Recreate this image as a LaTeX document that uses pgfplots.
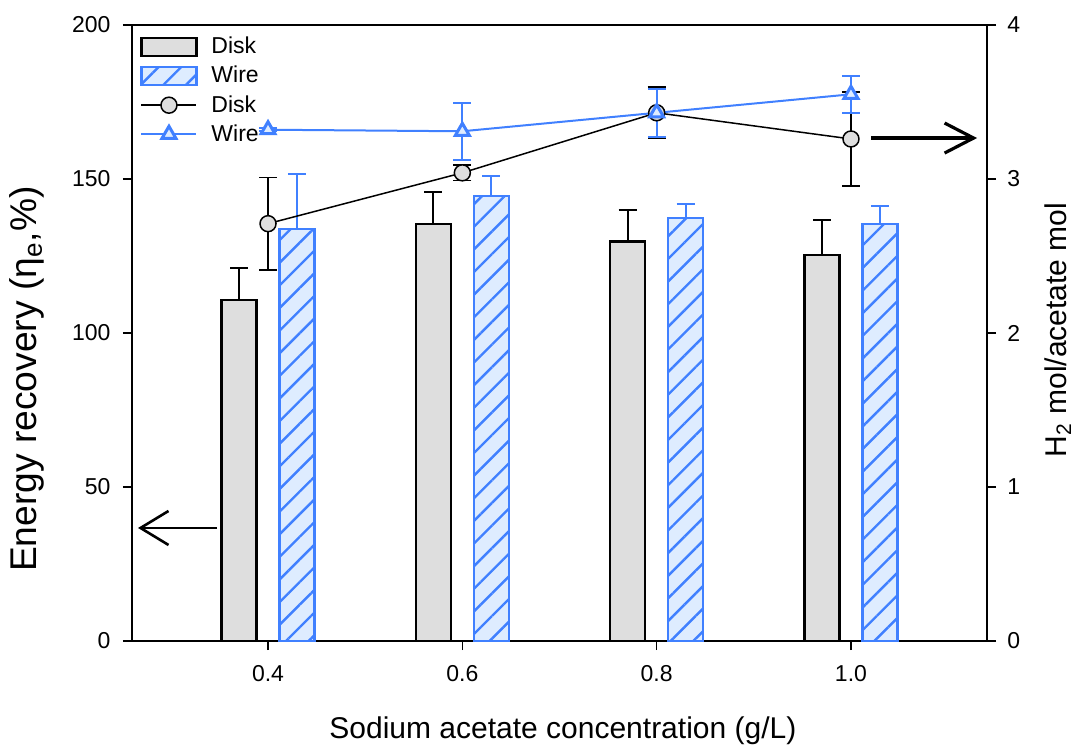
\documentclass[border=0pt]{standalone}
\usepackage{pgfplots}
\pgfplotsset{compat=1.18}
\usepackage{fontspec}
\setmainfont{Liberation Sans}
\usetikzlibrary{patterns.meta,arrows.meta}
\definecolor{wblue}{RGB}{64,128,255}
\definecolor{wfill}{RGB}{222,236,255}
\definecolor{dfill}{RGB}{222,222,222}
\newcommand{\tickfont}{\fontsize{11.5}{13.8}\selectfont}
\begin{document}
\begin{tikzpicture}
\begin{axis}[
  name=main,
  scale only axis, width=427.5pt, height=308pt,
  xmin=0.26, xmax=1.14, ymin=0, ymax=200,
  xtick={0.4,0.6,0.8,1.0}, xticklabels={0.4,0.6,0.8,1.0},
  ytick={0,50,100,150,200},
  xtick pos=bottom, ytick pos=left, tick align=outside,
  major tick length=4.5pt,
  every tick/.style={black, line width=0.75pt},
  axis line style={line width=1pt},
  tick label style={font=\tickfont},
  /pgf/number format/assume math mode=true,
  xticklabel style={yshift=-4pt},
  yticklabel style={xshift=-2.7pt},
  xlabel={Sodium acetate concentration (g/L)},
  ylabel={Energy recovery (η\textsubscript{e},\%)},
  xlabel style={at={(axis description cs:0.504,0)}, anchor=base, yshift=-48.5pt, font=\fontsize{15}{18}\selectfont},
  ylabel style={at={(axis description cs:-0.1228,0.425)}, anchor=center, font=\fontsize{18.6}{22}\selectfont},
  clip=false,
]
\addplot[ybar, bar width=17.5pt, bar shift=0pt, fill=dfill, draw=black, line width=1.1pt,
  error bars/.cd, y dir=plus, y explicit,
  error bar style={black, line width=0.9pt},
  error mark options={rotate=90, mark size=4.5pt, black, line width=0.9pt}]
  coordinates {(0.3702,110.8) +- (0,10.2) (0.5702,135.3) +- (0,10.6) (0.7702,129.7) +- (0,10.2) (0.9702,125.3) +- (0,11.4)};
\addplot[ybar, bar width=17.5pt, bar shift=0pt, fill=wfill, draw=wblue, line width=1.1pt,
  postaction={pattern={Lines[angle=45,distance=8pt,line width=1.2pt]}, pattern color=wblue},
  error bars/.cd, y dir=plus, y explicit,
  error bar style={wblue, line width=0.9pt},
  error mark options={rotate=90, mark size=4.5pt, wblue, line width=0.9pt}]
  coordinates {(0.4298,133.8) +- (0,17.8) (0.6298,144.5) +- (0,6.5) (0.8298,137.4) +- (0,4.6) (1.0298,135.3) +- (0,5.9)};
\draw[line width=1.3pt, -{Straight Barb[length=14pt,width=17pt]}] (axis cs:0.3476,36.7) -- (axis cs:0.2662,36.7);
\draw[line width=1.6pt, -{Straight Barb[length=14.5pt,width=15pt]}] (axis cs:1.0208,163.3) -- (axis cs:1.1298,163.3);
\end{axis}
\begin{axis}[
  scale only axis, width=427.5pt, height=308pt,
  xmin=0.26, xmax=1.14, ymin=0, ymax=4,
  axis x line=none, axis y line*=right,
  ytick={0,1,2,3,4}, ytick pos=right, tick align=outside,
  major tick length=4.5pt,
  every tick/.style={black, line width=0.75pt},
  axis line style={line width=1pt},
  tick label style={font=\tickfont},
  /pgf/number format/assume math mode=true,
  yticklabel style={xshift=2.2pt},
  ylabel={H\textsubscript{2} mol/acetate mol},
  ylabel style={at={(axis description cs:1.083,0.505)}, anchor=center, font=\fontsize{15}{18}\selectfont},
  legend style={at={(0.0023,0.9938)}, anchor=north west, draw=none, fill=none, font=\tickfont, row sep=0.7pt},
  legend cell align=left,
  legend image code/.code={\draw[mark repeat=2,mark phase=2,#1] plot coordinates {(0pt,0pt) (13.75pt,0pt) (27.5pt,0pt)};\path (32.5pt,0pt);},
  clip=false,
]
\addlegendimage{legend image code/.code={\draw[fill=dfill,draw=black,line width=1.1pt] (0pt,-4.4pt) rectangle (27.5pt,4.4pt);\path (32.5pt,0pt);}}
\addlegendentry{Disk}
\addlegendimage{legend image code/.code={\draw[fill=wfill,draw=wblue,line width=1.1pt,postaction={pattern={Lines[angle=45,distance=8pt,line width=1.2pt]},pattern color=wblue}] (0pt,-4.4pt) rectangle (27.5pt,4.4pt);\path (32.5pt,0pt);}}
\addlegendentry{Wire}
\addplot[black, line width=0.75pt, mark=*, mark size=4pt, mark options={fill=dfill, draw=black, line width=0.75pt},
  error bars/.cd, y dir=both, y explicit,
  error bar style={black, line width=0.9pt},
  error mark options={rotate=90, mark size=4.5pt, black, line width=0.9pt}]
  coordinates {(0.4,2.71) +- (0,0.30) (0.6,3.04) +- (0,0.05) (0.8,3.43) +- (0,0.165) (1.0,3.26) +- (0,0.305)};
\addlegendentry{Disk}
\addplot[wblue, line width=1pt, mark=triangle*, mark size=4pt, mark options={fill=wfill, draw=wblue, line width=1.5pt},
  error bars/.cd, y dir=both, y explicit,
  error bar style={wblue, line width=0.9pt},
  error mark options={rotate=90, mark size=4.5pt, wblue, line width=0.9pt}]
  coordinates {(0.4,3.32) +- (0,0.01) (0.6,3.31) +- (0,0.185) (0.8,3.43) +- (0,0.155) (1.0,3.55) +- (0,0.12)};
\addlegendentry{Wire}
\end{axis}
\pgfresetboundingbox
\path[use as bounding box] ([shift={(-66pt,-52.5pt)}]main.south west) rectangle ([shift={(50.5pt,12.5pt)}]main.north east);
\end{tikzpicture}
\end{document}
